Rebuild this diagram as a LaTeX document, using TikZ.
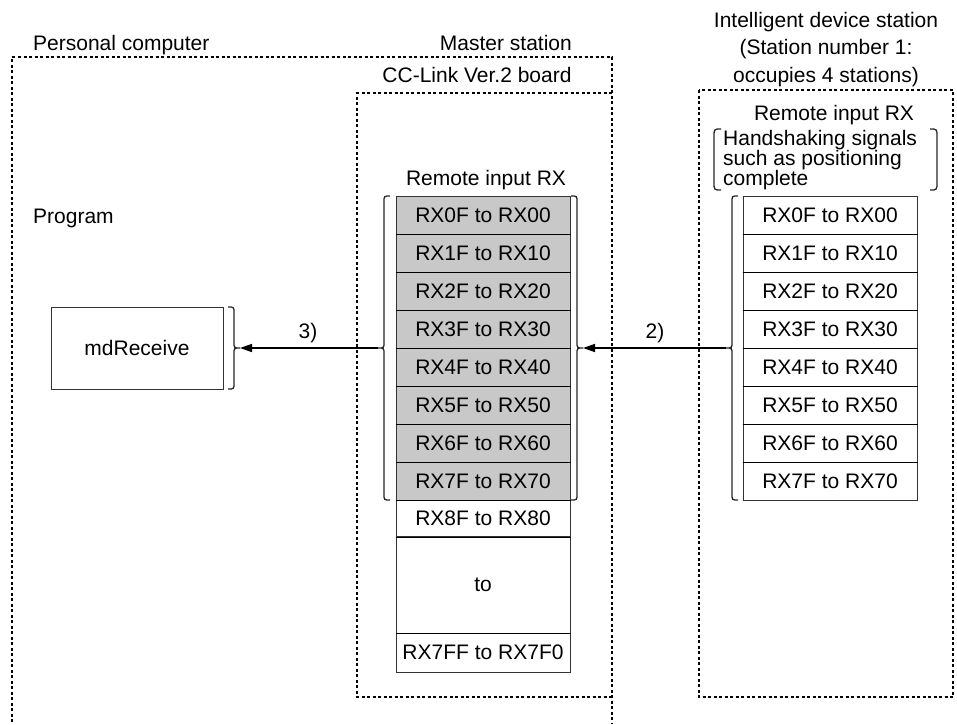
\documentclass[tikz,border=0pt]{standalone}
\usepackage{fontspec}
\setmainfont{Liberation Sans}
\usetikzlibrary{arrows.meta}
\definecolor{cellgray}{RGB}{200,200,200}
\begin{document}
\begin{tikzpicture}[x=1pt,y=-1pt,
  every node/.style={font=\fontsize{21}{25}\selectfont, inner sep=0pt},
  zone/.style={line width=1.8pt, dash pattern=on 3pt off 2.5pt},
  cell/.style={draw=black!80, line width=1pt, minimum width=174pt, minimum height=38pt},
  cellg/.style={cell, fill=cellgray},
  sep/.style={line width=1.6pt},
  brace/.style={line width=1.3pt, black!85},
  arr/.style={line width=1.5pt, -{Triangle[length=12pt,width=8pt]}},
  lbl/.style={anchor=base},
  small/.style={anchor=base west}
]
\useasboundingbox (0,0) rectangle (957,724);

% zones
\draw[zone] (12,722) -- (12,57) -- (612,57) -- (612,724);
\draw[zone] (612,93) -- (357,93) -- (357,697) -- (612,697);
\draw[zone] (699,90) rectangle (953,697);

% titles
\node[anchor=base west] (pc) at (33,50) {Personal computer};
\node[anchor=base east] (ms) at (572,50) {Master station};
\node[lbl] (cc) at (477,82) {CC-Link Ver.2 board};
\node[lbl] (id1) at (826,27) {Intelligent device station};
\node[lbl] (id2) at (826,54.5) {(Station number 1:};
\node[lbl] (id3) at (826,82) {occupies 4 stations)};
\node[lbl] (rir) at (834,120) {Remote input RX};
\node[small] (hs1) at (723,145) {Handshaking signals};
\node[small] (hs2) at (723,165) {such as positioning};
\node[small] (hs3) at (723,185) {complete};
\draw[brace] (721,129) .. controls (714,129) .. (714,137) -- (714,182) .. controls (714,190) .. (721,190);
\draw[brace] (930,129) .. controls (937,129) .. (937,137) -- (937,182) .. controls (937,190) .. (930,190);
\node[lbl] (mir) at (486,185) {Remote input RX};
\node[anchor=base west] (prog) at (33,223) {Program};

% program box
\node[draw=black!80, line width=1pt, minimum width=172pt, minimum height=82pt] (md) at (137,348) {mdReceive};

% master table
\node[cellg] (m1) at (483,215) {RX0F to RX00};
\node[cellg] (m2) at (483,253) {RX1F to RX10};
\node[cellg] (m3) at (483,291) {RX2F to RX20};
\node[cellg] (m4) at (483,329) {RX3F to RX30};
\node[cellg] (m5) at (483,367) {RX4F to RX40};
\node[cellg] (m6) at (483,405) {RX5F to RX50};
\node[cellg] (m7) at (483,443) {RX6F to RX60};
\node[cellg] (m8) at (483,481) {RX7F to RX70};
\node[cell, minimum height=37pt] (m9) at (483,518.5) {RX8F to RX80};
\node[cell, minimum height=97pt] (mto) at (483,584.5) {to};
\node[cell, minimum height=39pt] (mend) at (483,652.5) {RX7FF to RX7F0};
\foreach \a in {m1,m2,m3,m4,m5,m6,m7,m8,m9,mto}
  \draw[sep] (\a.south west) -- (\a.south east);

% intelligent device table
\node[cell] (r1) at (830,215) {RX0F to RX00};
\node[cell] (r2) at (830,253) {RX1F to RX10};
\node[cell] (r3) at (830,291) {RX2F to RX20};
\node[cell] (r4) at (830,329) {RX3F to RX30};
\node[cell] (r5) at (830,367) {RX4F to RX40};
\node[cell] (r6) at (830,405) {RX5F to RX50};
\node[cell] (r7) at (830,443) {RX6F to RX60};
\node[cell] (r8) at (830,481) {RX7F to RX70};
\foreach \a in {r1,r2,r3,r4,r5,r6,r7}
  \draw[sep] (\a.south west) -- (\a.south east);

% braces
\draw[brace] (228,307) .. controls (234,307) .. (234,313) -- (234,342)
  .. controls (234,348) .. (240,348) .. controls (234,348) .. (234,354)
  -- (234,383) .. controls (234,389) .. (228,389);
\coordinate (mdtip) at (240,348);

\draw[brace] (390,196) .. controls (384,196) .. (384,202) -- (384,342)
  .. controls (384,348) .. (378,348) .. controls (384,348) .. (384,354)
  -- (384,494) .. controls (384,500) .. (390,500);
\coordinate (mltip) at (378,348);

\draw[brace] (571,196) .. controls (577,196) .. (577,202) -- (577,342)
  .. controls (577,348) .. (583,348) .. controls (577,348) .. (577,354)
  -- (577,494) .. controls (577,500) .. (571,500);
\coordinate (mrtip) at (583,348);

\draw[brace] (738,196) .. controls (732,196) .. (732,202) -- (732,342)
  .. controls (732,348) .. (726,348) .. controls (732,348) .. (732,354)
  -- (732,494) .. controls (732,500) .. (738,500);
\coordinate (rltip) at (726,348);

% arrows
\draw[arr] (mltip) -- (mdtip);
\node[lbl] (l3) at (308,338) {3)};
\draw[arr] (rltip) -- (mrtip);
\node[lbl] (l2) at (655,338) {2)};
\end{tikzpicture}
\end{document}
